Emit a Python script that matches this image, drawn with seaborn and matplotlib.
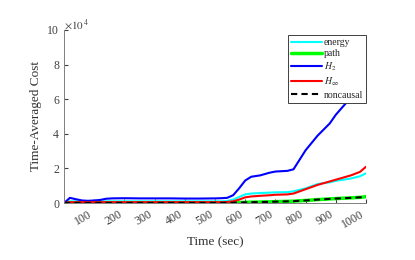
import numpy as np
import pandas as pd
import seaborn as sns
import matplotlib.pyplot as plt

# values (cost, in units of 1e4)
time = [0, 10, 20, 40, 60, 80, 100, 120, 140, 160, 200, 250, 300, 350, 400, 450, 500, 520,
        540, 560, 580, 600, 620, 650, 680, 700, 740, 760, 800, 840, 880, 900, 950, 980, 1000]
energy = [0.0, 0.05, 0.1, 0.1, 0.1, 0.1, 0.1, 0.1, 0.1, 0.1, 0.1, 0.1, 0.1, 0.1, 0.1, 0.1, 0.1, 0.1,
          0.12, 0.2, 0.35, 0.5, 0.55, 0.58, 0.6, 0.62, 0.63, 0.68, 0.85, 1.1, 1.2, 1.28, 1.42, 1.55, 1.72]
path = [0.0, 0.01, 0.01, 0.01, 0.01, 0.01, 0.01, 0.01, 0.01, 0.01, 0.01, 0.01, 0.01, 0.01, 0.01, 0.01, 0.01, 0.01,
        0.01, 0.02, 0.03, 0.04, 0.05, 0.06, 0.07, 0.08, 0.1, 0.11, 0.15, 0.2, 0.24, 0.26, 0.3, 0.33, 0.37]
h2 = [0.0, 0.15, 0.3, 0.22, 0.15, 0.13, 0.15, 0.18, 0.25, 0.27, 0.28, 0.27, 0.27, 0.27, 0.26, 0.26, 0.27, 0.28,
      0.3, 0.45, 0.85, 1.3, 1.52, 1.6, 1.75, 1.82, 1.86, 1.95, 3.05, 3.9, 4.6, 5.1, 6.1, 7.0, 8.1]
hinf = [0.0, 0.03, 0.05, 0.05, 0.05, 0.05, 0.05, 0.05, 0.05, 0.05, 0.05, 0.05, 0.05, 0.05, 0.05, 0.05, 0.05, 0.05,
        0.06, 0.1, 0.2, 0.33, 0.38, 0.42, 0.45, 0.48, 0.5, 0.55, 0.8, 1.05, 1.25, 1.35, 1.6, 1.8, 2.1]
noncausal = [0.0, 0.01, 0.01, 0.01, 0.01, 0.01, 0.01, 0.01, 0.01, 0.01, 0.01, 0.01, 0.01, 0.01, 0.01, 0.01, 0.01, 0.01,
             0.01, 0.02, 0.03, 0.04, 0.05, 0.06, 0.07, 0.08, 0.1, 0.11, 0.15, 0.2, 0.24, 0.26, 0.3, 0.33, 0.36]

series = ['energy', 'path', '$H_2$', '$H_\\infty$', 'noncausal']
colors = ['#00ffff', '#00ff00', '#0000ff', '#ff0000', '#000000']

df = pd.DataFrame({'Time': time, 'energy': energy, 'path': path, '$H_2$': h2,
                   '$H_\\infty$': hinf, 'noncausal': noncausal})
long = df.melt(id_vars='Time', var_name='method', value_name='cost')
long['cost'] = long['cost'] * 1e4

sns.set_style('white')
plt.rcParams['font.family'] = ['Liberation Serif', 'DejaVu Serif']
plt.rcParams['mathtext.fontset'] = 'stix'

fig = plt.figure(figsize=(4.15, 2.6), dpi=100)
ax = fig.add_axes([0.154, 0.219, 0.728, 0.666])

sns.lineplot(data=long, x='Time', y='cost', hue='method', hue_order=series,
             palette=dict(zip(series, colors)), style='method', style_order=series,
             dashes={'energy': '', 'path': '', '$H_2$': '', '$H_\\infty$': '', 'noncausal': (3, 2)},
             linewidth=1.5, ax=ax)
for ln in ax.lines:
    if ln.get_color() == '#00ff00':
        ln.set_linewidth(2.5)

ax.set_xlim(0, 1000)
ax.set_ylim(0, 1e5)
ax.set_xticks(range(100, 1001, 100))
ax.set_yticks([0, 2e4, 4e4, 6e4, 8e4, 1e5])
ax.set_yticklabels(['0', '2', '4', '6', '8', '10'])
ax.text(0.0, 1.01, r'$\times 10^{\,4}$', transform=ax.transAxes, fontsize=8, color='#404040')
ax.tick_params(axis='x', rotation=30, labelsize=8.5, direction='in', length=3, colors='#404040',
               bottom=True)
ax.tick_params(axis='y', labelsize=8.5, direction='in', length=3, colors='#404040', left=True)
for lab in ax.get_xticklabels():
    lab.set_ha('right')
    lab.set_va('top')
for s in ['top', 'right']:
    ax.spines[s].set_visible(False)
for s in ['left', 'bottom']:
    ax.spines[s].set_color('#808080')
    ax.spines[s].set_linewidth(0.7)

ax.set_xlabel('Time (sec)', fontsize=9.5, color='#303030')
ax.set_ylabel('Time-Averaged Cost', fontsize=9.5, color='#303030')

leg = ax.legend(loc='upper right', bbox_to_anchor=(1.0, 0.97), fontsize=7, frameon=True,
                fancybox=False, framealpha=1.0, edgecolor='#404040', handlelength=3.2,
                handletextpad=0.2, borderpad=0.3, labelspacing=0.25, borderaxespad=0.0)
leg.get_frame().set_linewidth(0.7)

fig.savefig('out.png', dpi=100)
